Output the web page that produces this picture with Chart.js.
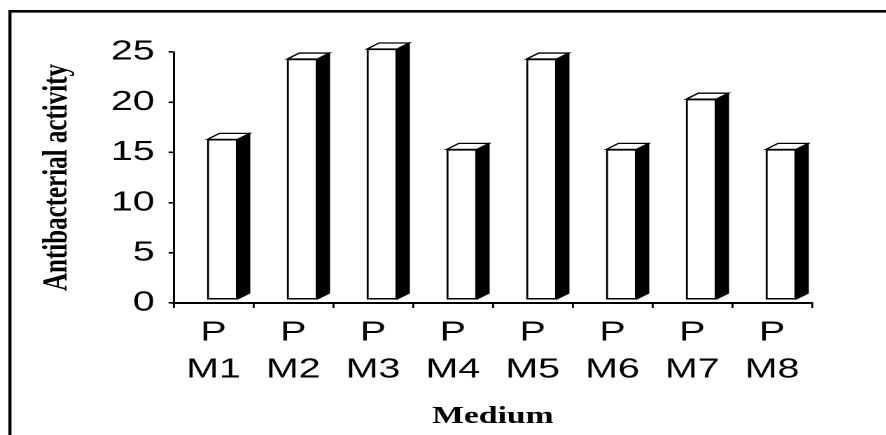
<!DOCTYPE html>
<html lang="en">

<head>
    <meta charset="UTF-8">
    <script src="https://cdn.jsdelivr.net/npm/chart.js"></script>
    <title>Antibacterial activity by medium</title>
    <style>
        html, body { margin: 0; padding: 0; background: #fff; overflow: hidden; }
        /* the original figure is stretched sideways, so the canvas is too */
        #grafico { display: block; transform: scaleX(1.4); transform-origin: 0 0; }
    </style>
</head>

<body>
    <canvas id="grafico" width="633" height="435"></canvas>

<script>
    // dados
    const linhaTopo = 'P';
    const meios = ['M1', 'M2', 'M3', 'M4', 'M5', 'M6', 'M7', 'M8'];
    const atividade = [16, 24, 25, 15, 24, 15, 20, 15];
    const ticksY = [0, 5, 10, 15, 20, 25];

    const rotulos = meios.map(m => [linhaTopo, m]);

    // profundidade do efeito 3D e deslocamento da face frontal
    const prof = { dx: 8.6, dy: 6 };
    const desloc = { x: 6.4, y: -3 };

    const fundoBranco = {
        id: 'fundoBranco',
        beforeDraw(chart) {
            const ctx = chart.ctx;
            ctx.save();
            ctx.fillStyle = '#fff';
            ctx.fillRect(0, 0, chart.width, chart.height);
            ctx.restore();
        },
        afterDraw(chart) {
            // moldura (só em cima e à esquerda aparecem na figura)
            const ctx = chart.ctx;
            ctx.save();
            ctx.strokeStyle = '#000';
            ctx.lineWidth = 2.7;
            ctx.beginPath();
            ctx.moveTo(6, 11.3);
            ctx.lineTo(chart.width, 11.3);
            ctx.stroke();
            ctx.lineWidth = 2.2;
            ctx.beginPath();
            ctx.moveTo(7.1, 10);
            ctx.lineTo(7.1, chart.height);
            ctx.stroke();
            ctx.restore();
        }
    };

    const barras3d = {
        id: 'barras3d',
        beforeDatasetsDraw(chart) {
            chart.ctx.save();
            chart.ctx.translate(desloc.x, desloc.y);
        },
        afterDatasetsDraw(chart) {
            const ctx = chart.ctx;
            const meta = chart.getDatasetMeta(0);
            meta.data.forEach(function (bar) {
                const p = bar.getProps(['x', 'y', 'base', 'width'], true);
                const esq = p.x - p.width / 2;
                const dir = p.x + p.width / 2;

                // lateral preta
                ctx.beginPath();
                ctx.moveTo(dir, p.y);
                ctx.lineTo(dir + prof.dx, p.y - prof.dy);
                ctx.lineTo(dir + prof.dx, p.base - prof.dy);
                ctx.lineTo(dir, p.base);
                ctx.closePath();
                ctx.fillStyle = '#000';
                ctx.fill();
                ctx.lineWidth = 1;
                ctx.strokeStyle = '#000';
                ctx.stroke();

                // topo branco
                ctx.beginPath();
                ctx.moveTo(esq, p.y);
                ctx.lineTo(esq + prof.dx, p.y - prof.dy);
                ctx.lineTo(dir + prof.dx, p.y - prof.dy);
                ctx.lineTo(dir, p.y);
                ctx.closePath();
                ctx.fillStyle = '#fff';
                ctx.fill();
                ctx.lineWidth = 1.3;
                ctx.stroke();
            });
            ctx.restore();
        }
    };

    const config = {
        type: 'bar',
        data: {
            labels: rotulos,
            datasets: [{
                label: 'Antibacterial activity',
                data: atividade,
                backgroundColor: '#fff',
                borderColor: '#000',
                borderWidth: 1.5,
                borderSkipped: false,
                barThickness: 21.5,
                clip: false
            }]
        },
        options: {
            responsive: false,
            devicePixelRatio: 2,
            animation: false,
            layout: { padding: { top: 52, left: 22, right: 53, bottom: 0 } },
            plugins: {
                legend: { display: false },
                tooltip: { enabled: false }
            },
            scales: {
                x: {
                    grid: { drawOnChartArea: false, offset: true, tickLength: 5, color: '#000', lineWidth: 1.4 },
                    border: { color: '#000', width: 2 },
                    ticks: {
                        color: '#000',
                        padding: 6.5,
                        maxRotation: 0,
                        autoSkip: false,
                        font: { family: 'Liberation Sans', size: 28, lineHeight: 1.32 }
                    },
                    title: {
                        display: true,
                        text: 'Medium',
                        color: '#000',
                        padding: { top: 0, bottom: 4 },
                        font: { family: 'Liberation Serif', size: 24, weight: 'bold' }
                    },
                    afterFit(scale) { scale.height = 132; }
                },
                y: {
                    min: 0,
                    max: 25,
                    afterBuildTicks(scale) { scale.ticks = ticksY.map(v => ({ value: v })); },
                    grid: { drawOnChartArea: false, tickLength: 3.6, color: '#000', lineWidth: 1.6 },
                    border: { color: '#000', width: 1.5 },
                    ticks: {
                        color: '#000',
                        padding: 10,
                        font: { family: 'Liberation Sans', size: 28 }
                    },
                    title: {
                        display: true,
                        text: 'Antibacterial activity',
                        color: '#000',
                        padding: { top: 4, bottom: 0 },
                        font: { family: 'Liberation Serif', size: 25, weight: 'bold' }
                    },
                    afterFit(scale) { scale.width = 102; }
                }
            }
        },
        plugins: [fundoBranco, barras3d]
    };

    let meuGrafico = new Chart(document.getElementById('grafico'), config);
</script>
</body>
</html>
